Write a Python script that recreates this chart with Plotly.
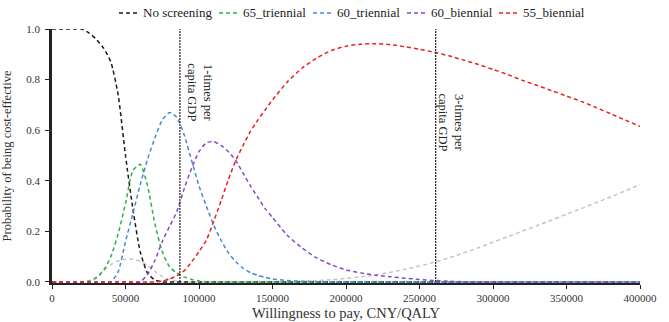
import plotly.graph_objects as go

wtp = [0, 5000, 10000, 15000, 20000, 25000, 30000, 35000, 40000, 45000, 50000, 55000,
       60000, 65000, 70000, 75000, 80000, 85000, 90000, 95000, 100000, 105000, 110000,
       115000, 120000, 125000, 130000, 135000, 140000, 145000, 150000,
       160000, 170000, 180000, 190000, 200000, 210000, 220000, 230000, 240000, 250000,
       260000, 270000, 280000, 290000, 300000, 310000, 320000, 330000, 340000, 350000,
       360000, 370000, 380000, 390000, 400000]

no_screening = [1, 1, 1, 1, 1, 0.985, 0.96, 0.925, 0.87, 0.74, 0.5, 0.29,
                0.12, 0.035, 0.008, 0, 0, 0, 0, 0, 0, 0, 0,
                0, 0, 0, 0, 0, 0, 0, 0,
                0, 0, 0, 0, 0, 0, 0, 0, 0, 0,
                0, 0, 0, 0, 0, 0, 0, 0, 0, 0,
                0, 0, 0, 0, 0]
tri_65 = [0, 0, 0, 0, 0, 0.003, 0.015, 0.045, 0.1, 0.19, 0.31, 0.44,
          0.465, 0.38, 0.23, 0.12, 0.06, 0.035, 0.02, 0.01, 0.004, 0.001, 0,
          0, 0, 0, 0, 0, 0, 0, 0,
          0, 0, 0, 0, 0, 0, 0, 0, 0, 0,
          0, 0, 0, 0, 0, 0, 0, 0, 0, 0,
          0, 0, 0, 0, 0]
tri_60 = [0, 0, 0, 0, 0, 0, 0, 0, 0, 0.04, 0.16, 0.27,
          0.385, 0.485, 0.57, 0.64, 0.67, 0.65, 0.58, 0.48, 0.38, 0.3, 0.225,
          0.165, 0.115, 0.08, 0.055, 0.037, 0.026, 0.018, 0.012,
          0.006, 0.003, 0.001, 0, 0, 0, 0, 0, 0, 0,
          0, 0, 0, 0, 0, 0, 0, 0, 0, 0,
          0, 0, 0, 0, 0]
bi_60 = [0, 0, 0, 0, 0, 0, 0, 0, 0, 0, 0, 0,
         0, 0.03, 0.085, 0.16, 0.22, 0.28, 0.37, 0.45, 0.515, 0.55, 0.555,
         0.54, 0.515, 0.48, 0.43, 0.38, 0.335, 0.29, 0.255,
         0.185, 0.135, 0.095, 0.068, 0.048, 0.036, 0.027, 0.021, 0.015, 0.01,
         0.006, 0.003, 0.001, 0, 0, 0, 0, 0, 0, 0,
         0, 0, 0, 0, 0]
bi_55 = [0, 0, 0, 0, 0, 0, 0, 0, 0, 0, 0, 0,
         0, 0, 0, 0.004, 0.012, 0.025, 0.045, 0.08, 0.12, 0.165, 0.24,
         0.32, 0.405, 0.48, 0.54, 0.595, 0.64, 0.68, 0.72,
         0.79, 0.845, 0.885, 0.915, 0.932, 0.94, 0.942, 0.938, 0.93, 0.92,
         0.908, 0.894, 0.877, 0.86, 0.84, 0.82, 0.797, 0.777, 0.756, 0.735,
         0.714, 0.69, 0.665, 0.64, 0.615]
other = [0, 0, 0, 0, 0, 0.005, 0.02, 0.045, 0.068, 0.083, 0.09, 0.09,
         0.082, 0.065, 0.042, 0.022, 0.009, 0.003, 0.001, 0, 0, 0, 0,
         0, 0, 0, 0, 0, 0, 0, 0,
         0, 0.002, 0.005, 0.009, 0.014, 0.02, 0.028, 0.038, 0.05, 0.063,
         0.078, 0.095, 0.115, 0.135, 0.157, 0.179, 0.201, 0.223, 0.245, 0.268,
         0.29, 0.313, 0.336, 0.36, 0.385]

series_names = ["No screening", "65_triennial", "60_triennial", "60_biennial", "55_biennial"]
series_values = [no_screening, tri_65, tri_60, bi_60, bi_55]

x_ticks = [0, 50000, 100000, 150000, 200000, 250000, 300000, 350000, 400000]
y_ticks = [0, 0.2, 0.4, 0.6, 0.8, 1.0]
y_tick_text = ["0.0", "0.2", "0.4", "0.6", "0.8", "1.0"]

gdp_lines = [87000, 261000]
gdp_labels = ["1-times per<br>capita GDP", "3-times per<br>capita GDP"]

# ---- styling ----
FONT = "Liberation Serif, Times New Roman, serif"
colors = ["#1a1a1a", "#2eb04c", "#4189d8", "#8748c4", "#e3241c"]
DASH = "4px,3px"
W, H = 669, 322
ML, MR, MT, MB = 52, 29, 29, 39
PW = W - ML - MR
PH = H - MT - MB
legend_px = [119, 219, 313, 407, 499]   # left pixel of each legend entry
legend_py = 13
gdp_label_y = [0.75, 0.632]
gdp_label_shift = [20, 15]

fig = go.Figure()

fig.add_trace(go.Scatter(x=wtp, y=other, mode="lines", showlegend=False,
                         line=dict(color="#c4c4c4", width=1.5, dash=DASH, shape="spline", smoothing=0.6)))

for name, ys, col in zip(series_names, series_values, colors):
    fig.add_trace(go.Scatter(x=wtp, y=ys, mode="lines", name=name, showlegend=False,
                             line=dict(color=col, width=1.5, dash=DASH, shape="spline", smoothing=0.6)))


def px2paper_x(px):
    return (px - ML) / PW


def px2paper_y(py):
    return (H - MB - py) / PH


# compact legend drawn like the reference
for name, col, lx in zip(series_names, colors, legend_px):
    fig.add_shape(type="line", xref="paper", yref="paper",
                  x0=px2paper_x(lx), x1=px2paper_x(lx + 19),
                  y0=px2paper_y(legend_py), y1=px2paper_y(legend_py),
                  line=dict(color=col, width=1.5, dash="4px,3px"))
    fig.add_annotation(xref="paper", yref="paper", x=px2paper_x(lx + 22), y=px2paper_y(legend_py),
                       text=name, showarrow=False, xanchor="left", yanchor="middle",
                       font=dict(family=FONT, size=13, color="#222222"))

for gx, lab, ly, sh in zip(gdp_lines, gdp_labels, gdp_label_y, gdp_label_shift):
    fig.add_shape(type="line", x0=gx, x1=gx, y0=0, y1=1, xref="x", yref="y",
                  line=dict(color="#222222", width=1.2, dash="2px,1px"))
    fig.add_annotation(x=gx, y=ly, xref="x", yref="y", text=lab, textangle=90,
                       showarrow=False, xanchor="center", yanchor="middle", xshift=sh,
                       font=dict(family=FONT, size=12.5, color="#222222"), align="center")

fig.update_layout(
    width=W, height=H,
    margin=dict(l=ML, r=MR, t=MT, b=MB, autoexpand=False),
    paper_bgcolor="white", plot_bgcolor="white",
    font=dict(family=FONT, size=11, color="#333333"),
    showlegend=False,
)
fig.update_xaxes(range=[0, 400000], tickvals=x_ticks, ticktext=[str(v) for v in x_ticks],
                 showgrid=False, zeroline=False, showline=True, linecolor="#222222", linewidth=1.5,
                 ticks="outside", ticklen=4, tickcolor="#222222", automargin=False,
                 title=dict(text="Willingness to pay, CNY/QALY", font=dict(family=FONT, size=14.5, color="#333333"), standoff=5),
                 tickfont=dict(family=FONT, size=11, color="#333333"))
fig.update_yaxes(range=[-0.004, 1.0], tickvals=y_ticks, ticktext=y_tick_text,
                 showgrid=False, zeroline=False, showline=True, linecolor="#222222", linewidth=2.5,
                 ticks="outside", ticklen=4, tickcolor="#222222", automargin=False, ticklabelstandoff=3,
                 title=dict(text="Probability of being cost-effective", font=dict(family=FONT, size=12.5, color="#333333"), standoff=13),
                 tickfont=dict(family=FONT, size=11, color="#333333"))

fig.write_html("out.html", config={"displayModeBar": False},
               post_script="document.body.style.margin='0px';")
